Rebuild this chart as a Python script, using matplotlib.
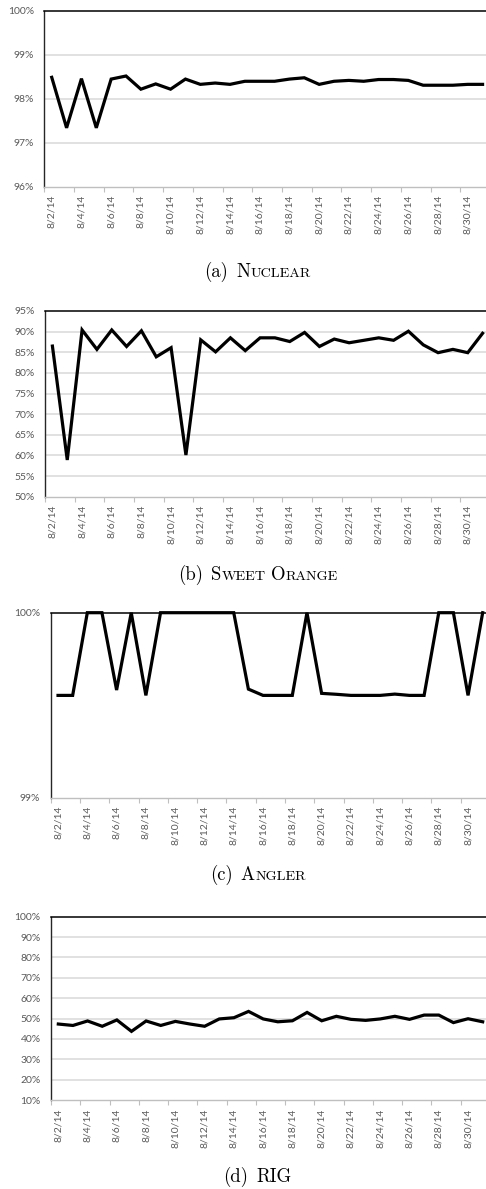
import matplotlib
matplotlib.use("Agg")
import matplotlib.pyplot as plt
from matplotlib.ticker import FixedLocator, FuncFormatter

# Daily coverage, 8/2/14 - 8/31/14
dates = ["8/2/14", "8/3/14", "8/4/14", "8/5/14", "8/6/14", "8/7/14", "8/8/14",
         "8/9/14", "8/10/14", "8/11/14", "8/12/14", "8/13/14", "8/14/14",
         "8/15/14", "8/16/14", "8/17/14", "8/18/14", "8/19/14", "8/20/14",
         "8/21/14", "8/22/14", "8/23/14", "8/24/14", "8/25/14", "8/26/14",
         "8/27/14", "8/28/14", "8/29/14", "8/30/14", "8/31/14"]

nuclear = [98.49, 97.34, 98.46, 97.34, 98.45, 98.52, 98.22, 98.34, 98.22, 98.45,
           98.33, 98.36, 98.33, 98.40, 98.40, 98.40, 98.45, 98.48, 98.33, 98.40,
           98.42, 98.40, 98.44, 98.44, 98.42, 98.31, 98.31, 98.31, 98.33, 98.33]

sweet_orange = [86.5, 58.9, 90.4, 85.7, 90.4, 86.4, 90.2, 83.9, 86.1, 60.1,
                88.0, 85.1, 88.5, 85.4, 88.5, 88.5, 87.6, 89.8, 86.4, 88.2,
                87.3, 87.9, 88.5, 87.9, 90.1, 86.8, 84.9, 85.7, 84.9, 89.6]

angler = [99.553, 99.553, 100.0, 100.0, 99.582, 100.0, 99.553, 100.0, 100.0, 100.0,
          100.0, 100.0, 100.0, 99.587, 99.553, 99.553, 99.553, 100.0, 99.564, 99.559,
          99.553, 99.553, 99.553, 99.560, 99.553, 99.553, 100.0, 100.0, 99.553, 100.0]

rig = [47.3, 46.6, 48.8, 46.2, 49.3, 43.7, 48.8, 46.6, 48.6, 47.3,
       46.2, 49.8, 50.4, 53.5, 49.8, 48.4, 48.9, 53.0, 48.9, 51.1,
       49.6, 49.1, 49.8, 51.1, 49.6, 51.7, 51.7, 48.0, 49.9, 48.4]

W, H = 486, 1189
DPI = 100
fig = plt.figure(figsize=(W / DPI, H / DPI), dpi=DPI)
fig.patch.set_facecolor("white")

TICK_FONT = "Lato"
TICK_SIZE = 7.5
TICK_COLOR = "#595959"
GRID_COLOR = "#d9d9d9"
AXIS_COLOR = "#bfbfbf"


def panel(left, top, bottom, values, ymin, ymax, ystep, right=490):
    ax = fig.add_axes([left / W, 1 - bottom / H, (right - left) / W, (bottom - top) / H])
    n = len(values)
    x = list(range(n))
    ax.plot(x, values, color="black", lw=2.3, solid_joinstyle="miter",
            clip_on=False, zorder=5)
    ax.set_xlim(-0.5, n - 0.5)
    ax.set_ylim(ymin, ymax)

    yt = []
    v = ymin
    while v <= ymax + 1e-9:
        yt.append(round(v, 6))
        v += ystep
    ax.yaxis.set_major_locator(FixedLocator(yt))
    ax.yaxis.set_major_formatter(FuncFormatter(lambda val, pos: f"{val:.0f}%"))
    for g in yt[1:-1]:
        ax.axhline(g, color=GRID_COLOR, lw=1.1, zorder=1)

    ax.xaxis.set_major_locator(FixedLocator(x[::2]))
    ax.set_xticklabels(dates[::2])
    ax.xaxis.set_minor_locator(FixedLocator([i - 0.5 for i in range(0, n + 1, 2)]))

    ax.tick_params(axis="x", which="major", length=0, pad=6, rotation=90,
                   labelsize=TICK_SIZE, labelcolor=TICK_COLOR)
    ax.tick_params(axis="x", which="minor", length=3.5, width=0.8, color=AXIS_COLOR)
    ax.tick_params(axis="y", length=0, pad=7.5, labelsize=TICK_SIZE, labelcolor=TICK_COLOR)
    for lab in ax.get_xticklabels() + ax.get_yticklabels():
        lab.set_fontfamily(TICK_FONT)
    for lab in ax.get_xticklabels():
        lab.set_verticalalignment("top")
        lab.set_horizontalalignment("center")

    ax.spines["top"].set_color("black")
    ax.spines["top"].set_linewidth(1.1)
    ax.spines["left"].set_color("#262626")
    ax.spines["left"].set_linewidth(1.0)
    ax.spines["bottom"].set_color(AXIS_COLOR)
    ax.spines["bottom"].set_linewidth(1.0)
    ax.spines["right"].set_visible(False)
    return ax


panel(44.3, 11.0, 186.7, nuclear, 96, 100, 1)
panel(45.0, 311.0, 496.7, sweet_orange, 50, 95, 5)
panel(50.7, 612.7, 797.7, angler, 99, 100, 1)
panel(51.0, 916.7, 1100.0, rig, 10, 100, 10)

renderer = fig.canvas.get_renderer()
BIG, SMALL = 13.5, 10.2


def caption(y_base, parts, cx=257.5):
    # parts: list of (text, fontsize, gap_before_px)
    items = []
    for s, size, gap in parts:
        t = fig.text(0, 0, s, fontsize=size, family="cmr10",
                     ha="left", va="baseline", color="black")
        w = t.get_window_extent(renderer).width
        items.append((t, w, gap))
    total = sum(w + g for _, w, g in items)
    xpos = cx - total / 2
    for t, w, g in items:
        xpos += g
        t.set_position((xpos / W, 1 - y_base / H))
        xpos += w + 0.3


caption(277, [("(a)", BIG, 0), ("N", BIG, 8), ("UCLEAR", SMALL, 0)])
caption(580, [("(b)", BIG, 0), ("S", BIG, 8), ("WEET", SMALL, 0),
              ("O", BIG, 5), ("RANGE", SMALL, 0)])
caption(880, [("(c)", BIG, 0), ("A", BIG, 8), ("NGLER", SMALL, 0)])
caption(1182, [("(d)", BIG, 0), ("RIG", BIG, 8)])

fig.savefig("out.png", dpi=DPI, facecolor="white")
